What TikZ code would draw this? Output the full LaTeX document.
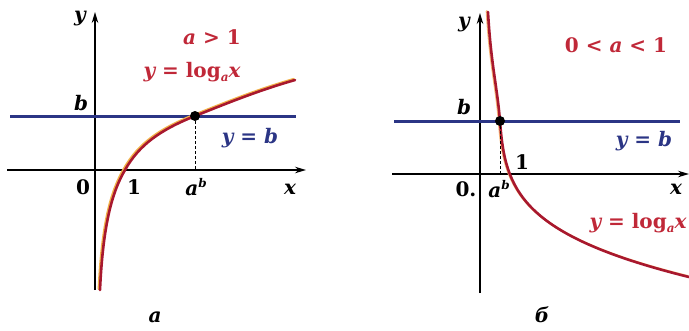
\documentclass[tikz,border=0pt]{standalone}
\usepackage{fontspec}
\newfontfamily\dv{DejaVu Serif}
\newfontfamily\cyrf{DejaVu Serif}
\usetikzlibrary{arrows.meta}
\definecolor{curvered}{HTML}{A8182E}
\definecolor{labelred}{HTML}{C02838}
\definecolor{halo}{HTML}{F2B24A}
\definecolor{lineblue}{HTML}{2B3585}
\newcommand\vi[1]{{\itshape #1}}
\newcommand\subsc[1]{\raisebox{-0.4ex}{\fontsize{12}{12}\selectfont\itshape #1}}
\newcommand\supsc[1]{\raisebox{0.7ex}{\fontsize{12}{12}\selectfont\itshape #1}}
\begin{document}
\begin{tikzpicture}[x=1pt,y=-1pt,
  axis/.style={line width=1.3pt,black,-{Stealth[length=11pt,width=6.5pt]}},
  blueline/.style={line width=3pt,lineblue},
  curve/.style={line width=2.6pt,curvered,line cap=round},
  halocurve/.style={line width=2.2pt,halo,line cap=round},
  guide/.style={line width=1pt,black,dashed,dash pattern=on 3pt off 2pt},
  lab/.style={font=\dv\bfseries\fontsize{20}{20}\selectfont,inner sep=0pt},
  dot/.style={circle,fill=black,inner sep=0pt,minimum size=10pt}]
\useasboundingbox (0,0) rectangle (689,330);
% ---------- left panel ----------
\coordinate (lyb) at (95,290);
\coordinate (lyt) at (95,12);
\coordinate (lxl) at (7,170);
\coordinate (lxr) at (306,170);
\coordinate (lbl) at (10,116);
\coordinate (lbr) at (296,116);
\coordinate (lfoot) at (195,170);
\draw[axis] (lyb) -- (lyt);
\draw[axis] (lxl) -- (lxr);
\draw[blueline] (lbl) -- (lbr);
\begin{scope}[xshift=-1.3pt,yshift=1pt]
\draw[halocurve] (100,290) .. controls (103,225) and (112,192) .. (125,170)
  .. controls (139,145) and (160,130) .. (195,116)
  .. controls (230,102) and (260,90) .. (295,80);
\end{scope}
\draw[curve] (100,290) .. controls (103,225) and (112,192) .. (125,170)
  .. controls (139,145) and (160,130) .. (195,116)
  .. controls (230,102) and (260,90) .. (295,80);
\node[dot] (lpt) at (195,116) {};
\draw[guide] (lpt) -- (lfoot);
\node[lab] (ly) at (80,19) {\vi{y}};
\node[lab] (lb) at (81,103) {\vi{b}};
\node[lab] (l0) at (83,187) {0};
\node[lab] (l1) at (134,187) {1};
\node[lab] (lab) at (196,187) {\vi{a}\supsc{b}};
\node[lab] (lx) at (290,189) {\vi{x}};
\node[lab,labelred] (lcond) at (212,37) {\vi{a} > 1};
\node[lab,labelred] (lfun) at (192,72) {\vi{y} = log\subsc{a}\vi{x}};
\node[lab,lineblue] (leq) at (250,138) {\vi{y} = \vi{b}};
\node[lab] (lcap) at (155,317) {\vi{a}};
% ---------- right panel ----------
\coordinate (ryb) at (480,293);
\coordinate (ryt) at (480,13);
\coordinate (rxl) at (392,174);
\coordinate (rxr) at (689,174);
\coordinate (rbl) at (394,121);
\coordinate (rbr) at (680,121);
\coordinate (rfoot) at (500,174);
\draw[axis] (ryb) -- (ryt);
\draw[axis] (rxl) -- (rxr);
\draw[blueline] (rbl) -- (rbr);
\begin{scope}[xshift=-1.2pt,yshift=0.8pt]
\draw[halocurve,halo!60!pink] (488,12) .. controls (491,65) and (497,85) .. (500,121)
  .. controls (505,190) and (520,235) .. (689,277);
\end{scope}
\draw[curve] (488,12) .. controls (491,65) and (497,85) .. (500,121)
  .. controls (505,190) and (520,235) .. (689,277);
\node[dot] (rpt) at (500,121) {};
\draw[guide] (rpt) -- (rfoot);
\node[lab] (ry) at (464,25) {\vi{y}};
\node[lab] (rb) at (464,107) {\vi{b}};
\node[lab] (r0) at (466,189) {0.};
\node[lab] (r1) at (522,162) {1};
\node[lab] (rab) at (499,189) {\vi{a}\supsc{b}};
\node[lab] (rx) at (676,189) {\vi{x}};
\node[lab,labelred] (rcond) at (616,45) {0 < \vi{a} < 1};
\node[lab,lineblue] (req) at (644,141) {\vi{y} = \vi{b}};
\node[lab,labelred] (rfun) at (638,223) {\vi{y} = log\subsc{a}\vi{x}};
\node[lab] (rcap) at (542,315) {\cyrf\bfseries\itshape б};
\end{tikzpicture}
\end{document}
